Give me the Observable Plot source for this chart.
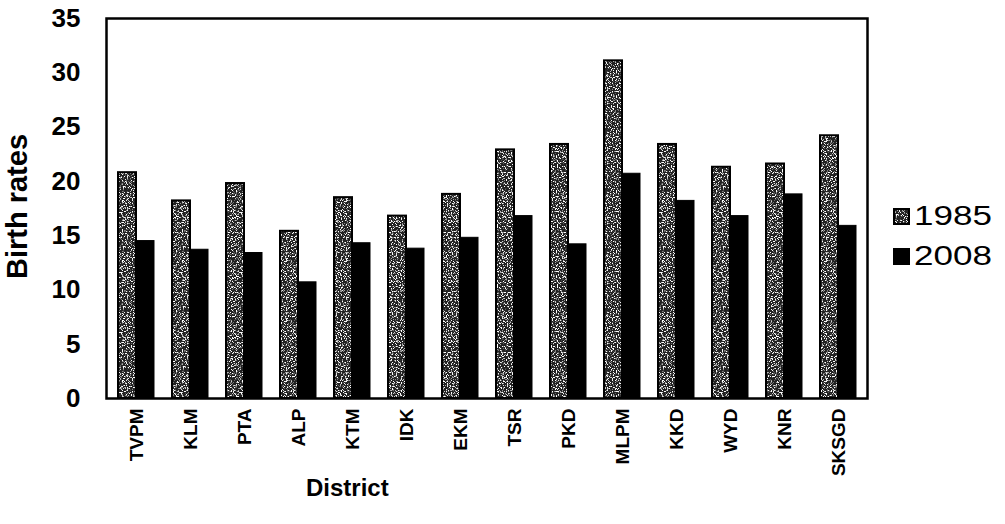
<!DOCTYPE html>
<html>
<head>
<meta charset="utf-8">
<script src="https://cdn.jsdelivr.net/npm/d3@7"></script>
<script src="https://cdn.jsdelivr.net/npm/@observablehq/plot@0.6"></script>
<style>
  html, body { margin: 0; padding: 0; background: #fff; }
  #wrap { position: relative; width: 1005px; height: 524px; font-family: "Liberation Sans", Arial, sans-serif; }
  .lab { position: absolute; font-weight: bold; color: #000; white-space: nowrap; }
  #legend { position: absolute; left: 893px; top: 196px; font-size: 28px; line-height: 40px; }
  #legend .row { display: flex; align-items: center; }
  #legend svg { margin-right: 4px; }
  #legend span { display: inline-block; transform: scaleX(1.25); transform-origin: left center; }
</style>
</head>
<body>
<div id="wrap"></div>
<script>
const districts = ["TVPM","KLM","PTA","ALP","KTM","IDK","EKM","TSR","PKD","MLPM","KKD","WYD","KNR","SKSGD"];
const rates1985 = [20.8, 18.2, 19.8, 15.4, 18.5, 16.8, 18.8, 22.9, 23.4, 31.1, 23.4, 21.3, 21.6, 24.2];
const rates2008 = [14.5, 13.7, 13.4, 10.7, 14.3, 13.8, 14.8, 16.8, 14.2, 20.7, 18.2, 16.8, 18.8, 15.9];
const years = ["1985", "2008"];
const yTicks = [0, 5, 10, 15, 20, 25, 30, 35];

const rows = districts.flatMap((d, i) => [
  {district: d, year: years[0], value: rates1985[i]},
  {district: d, year: years[1], value: rates2008[i]}
]);

const fill1985 = "url(#speckle)";
const plot = Plot.plot({
  width: 1005,
  height: 524,
  marginLeft: 106,
  marginRight: 138,
  marginTop: 18,
  marginBottom: 126,
  style: {fontFamily: "'Liberation Sans', Arial, sans-serif", fontWeight: "bold", color: "#000", background: "transparent"},
  x: {domain: districts, paddingInner: 0.34, paddingOuter: 0.2, label: null},
  y: {domain: [0, 35], label: null},
  marks: [
    Plot.barY(rows.filter(r => r.year === "1985"), {x: "district", y: "value", insetRight: 18, fill: fill1985, stroke: "#000", strokeWidth: 2}),
    Plot.barY(rows.filter(r => r.year === "2008"), {x: "district", y: "value", insetLeft: 18, fill: "#000", stroke: "#000", strokeWidth: 1}),
    Plot.frame({stroke: "#000", strokeWidth: 2.5}),
    Plot.axisY({ticks: yTicks, tickSize: 0, tickPadding: 26, fontSize: 26, fontWeight: "bold", label: null}),
    Plot.axisX({tickRotate: -90, tickSize: 0, tickPadding: 10, fontSize: 19, fontWeight: "bold", label: null})
  ]
});

// speckled texture for the 1985 bars
const svgNS = "http://www.w3.org/2000/svg";
const defs = document.createElementNS(svgNS, "defs");
defs.innerHTML = `
  <filter id="noise" x="0" y="0" width="100%" height="100%">
    <feTurbulence type="fractalNoise" baseFrequency="0.8" numOctaves="2" seed="3" result="t"/>
    <feColorMatrix type="matrix" in="t" values="0 0 0 0 1  0 0 0 0 1  0 0 0 0 1  0 0 0 -7 3.4" />
  </filter>
  <pattern id="speckle" patternUnits="userSpaceOnUse" width="60" height="60">
    <rect width="60" height="60" fill="#222"/>
    <rect width="60" height="60" filter="url(#noise)"/>
  </pattern>`;
plot.insertBefore(defs, plot.firstChild);

const wrap = document.getElementById("wrap");
wrap.appendChild(plot);

const yl = document.createElement("div");
yl.className = "lab";
yl.textContent = "Birth rates";
yl.style.cssText = "font-size:29px; left:-58px; top:190px; transform: rotate(-90deg); transform-origin: center; width:150px; text-align:center;";
wrap.appendChild(yl);

const xl = document.createElement("div");
xl.className = "lab";
xl.textContent = "District";
xl.style.cssText = "font-size:24px; left:306px; top:474px;";
wrap.appendChild(xl);

const leg = document.createElement("div");
leg.id = "legend";
leg.innerHTML = `
  <div class="row"><svg width="17" height="17"><rect x="1" y="1" width="15" height="15" fill="url(#speckle)" stroke="#000" stroke-width="2"/></svg><span>1985</span></div>
  <div class="row"><svg width="17" height="17"><rect x="1" y="1" width="15" height="15" fill="#000" stroke="#000" stroke-width="2"/></svg><span>2008</span></div>`;
wrap.appendChild(leg);
</script>
</body>
</html>
